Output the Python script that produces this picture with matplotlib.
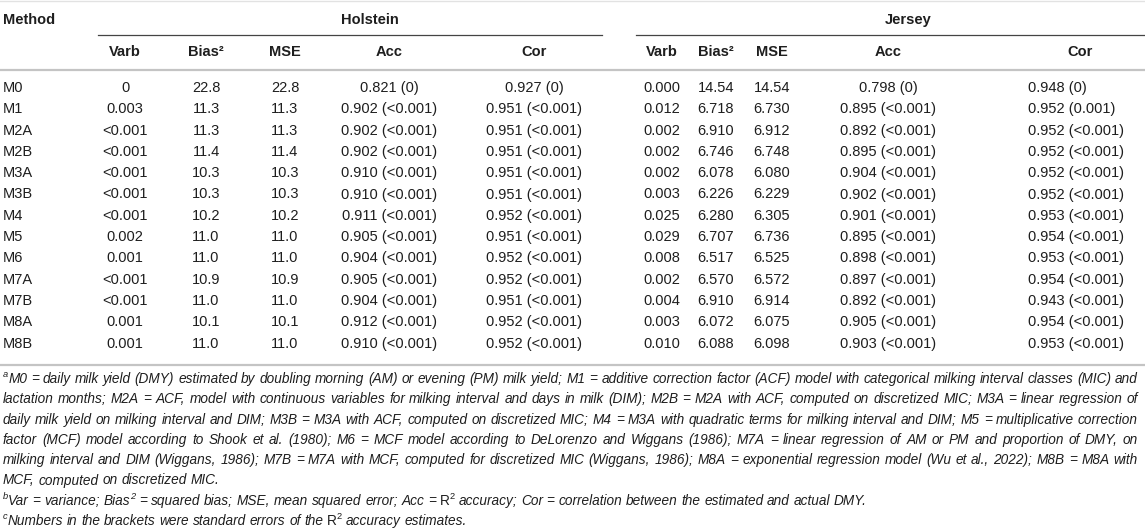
import matplotlib
matplotlib.use("Agg")
import matplotlib.pyplot as plt

# table data
methods = ["M0", "M1", "M2A", "M2B", "M3A", "M3B", "M4", "M5", "M6", "M7A", "M7B", "M8A", "M8B"]

hol_varb = ["0", "0.003", "<0.001", "<0.001", "<0.001", "<0.001", "<0.001", "0.002", "0.001",
            "<0.001", "<0.001", "0.001", "0.001"]
hol_bias2 = ["22.8", "11.3", "11.3", "11.4", "10.3", "10.3", "10.2", "11.0", "11.0", "10.9", "11.0", "10.1", "11.0"]
hol_mse = ["22.8", "11.3", "11.3", "11.4", "10.3", "10.3", "10.2", "11.0", "11.0", "10.9", "11.0", "10.1", "11.0"]
hol_acc = ["0.821 (0)", "0.902 (<0.001)", "0.902 (<0.001)", "0.902 (<0.001)", "0.910 (<0.001)",
           "0.910 (<0.001)", "0.911 (<0.001)", "0.905 (<0.001)", "0.904 (<0.001)", "0.905 (<0.001)",
           "0.904 (<0.001)", "0.912 (<0.001)", "0.910 (<0.001)"]
hol_cor = ["0.927 (0)", "0.951 (<0.001)", "0.951 (<0.001)", "0.951 (<0.001)", "0.951 (<0.001)",
           "0.951 (<0.001)", "0.952 (<0.001)", "0.951 (<0.001)", "0.952 (<0.001)", "0.952 (<0.001)",
           "0.951 (<0.001)", "0.952 (<0.001)", "0.952 (<0.001)"]

jer_varb = ["0.000", "0.012", "0.002", "0.002", "0.002", "0.003", "0.025", "0.029", "0.008",
            "0.002", "0.004", "0.003", "0.010"]
jer_bias2 = ["14.54", "6.718", "6.910", "6.746", "6.078", "6.226", "6.280", "6.707", "6.517",
             "6.570", "6.910", "6.072", "6.088"]
jer_mse = ["14.54", "6.730", "6.912", "6.748", "6.080", "6.229", "6.305", "6.736", "6.525",
           "6.572", "6.914", "6.075", "6.098"]
jer_acc = ["0.798 (0)", "0.895 (<0.001)", "0.892 (<0.001)", "0.895 (<0.001)", "0.904 (<0.001)",
           "0.902 (<0.001)", "0.901 (<0.001)", "0.895 (<0.001)", "0.898 (<0.001)", "0.897 (<0.001)",
           "0.892 (<0.001)", "0.905 (<0.001)", "0.903 (<0.001)"]
jer_cor = ["0.948 (0)", "0.952 (0.001)", "0.952 (<0.001)", "0.952 (<0.001)", "0.952 (<0.001)",
           "0.952 (<0.001)", "0.953 (<0.001)", "0.954 (<0.001)", "0.953 (<0.001)", "0.954 (<0.001)",
           "0.943 (<0.001)", "0.954 (<0.001)", "0.953 (<0.001)"]

sub_headers = ["Varb", "Bias\u00b2", "MSE", "Acc", "Cor"]
groups = ["Holstein", "Jersey"]

# footnotes: (text, kind) segments, one list per printed line
footnotes = [
    [("a", "sup"), ("M0 = daily milk yield (DMY) estimated by doubling morning (AM) or evening (PM) milk yield; "
                    "M1 = additive correction factor (ACF) model with categorical milking interval classes (MIC) and", "it")],
    [("lactation months; M2A = ACF, model with continuous variables for milking interval and days in milk (DIM); "
      "M2B = M2A with ACF, computed on discretized MIC; M3A = linear regression of", "it")],
    [("daily milk yield on milking interval and DIM; M3B = M3A with ACF, computed on discretized MIC; "
      "M4 = M3A with quadratic terms for milking interval and DIM; M5 = multiplicative correction", "it")],
    [("factor (MCF) model according to Shook et al. (1980); M6 = MCF model according to DeLorenzo and "
      "Wiggans (1986); M7A = linear regression of AM or PM and proportion of DMY, on", "it")],
    [("milking interval and DIM (Wiggans, 1986); M7B = M7A with MCF, computed for discretized MIC "
      "(Wiggans, 1986); M8A = exponential regression model (Wu et al., 2022); M8B = M8A with", "it")],
    [("MCF, computed on discretized MIC.", "it")],
    [("b", "sup"), ("Var = variance; Bias", "it"), ("2", "sup"), (" = squared bias; MSE, mean squared error; Acc = ", "it"),
     ("R", "rm"), ("2", "rsup"), (" accuracy; Cor = correlation between the estimated and actual DMY.", "it")],
    [("c", "sup"), ("Numbers in the brackets were standard errors of the ", "it"), ("R", "rm"), ("2", "rsup"),
     (" accuracy estimates.", "it")],
]
justified = [True, True, True, True, True, False, False, False]

FAM = "Liberation Sans"
INK = "#1e1e1e"
FS = 10.5

fig = plt.figure(figsize=(11.45, 5.32), dpi=100)
ax = fig.add_axes([0, 0, 1, 1])
ax.set_xlim(0, 1145)
ax.set_ylim(532, 0)
ax.axis("off")

# rules
ax.plot([0, 1145], [0.5, 0.5], color="#e2e2e2", lw=1)
ax.plot([98, 602], [35, 35], color="#444444", lw=0.9)
ax.plot([636, 1145], [35, 35], color="#444444", lw=0.9)
ax.plot([0, 1145], [69.5, 69.5], color="#c4c4c4", lw=1.6)
ax.plot([0, 1145], [365, 365], color="#c4c4c4", lw=1.6)

# headers
ax.text(3, 20, "Method", ha="left", va="center", fontsize=FS, family=FAM, fontweight="bold", color=INK)
group_x = [370, 908]
for g, gx in zip(groups, group_x):
    ax.text(gx, 20, g, ha="center", va="center", fontsize=FS, family=FAM, fontweight="bold", color=INK)

hol_x = [125, 206, 285, 389, 534]
jer_x = [662, 716, 772, 888, 1080]
for s, x in zip(sub_headers, hol_x):
    ax.text(x, 52, s, ha="center", va="center", fontsize=FS, family=FAM, fontweight="bold", color=INK)
for s, x in zip(sub_headers, jer_x):
    ax.text(x, 52, s, ha="center", va="center", fontsize=FS, family=FAM, fontweight="bold", color=INK)

# body
row0, row_step = 88, 21.3
hol_cols = [hol_varb, hol_bias2, hol_mse, hol_acc, hol_cor]
jer_cols = [jer_varb, jer_bias2, jer_mse, jer_acc, jer_cor]
for i, m in enumerate(methods):
    y = row0 + i * row_step
    ax.text(3, y, m, ha="left", va="center", fontsize=FS, family=FAM, color=INK)
    for col, x in zip(hol_cols, hol_x):
        ax.text(x, y, col[i], ha="center", va="center", fontsize=FS, family=FAM, color=INK)
    for j, (col, x) in enumerate(zip(jer_cols, jer_x)):
        if j == 4:
            ax.text(1028, y, col[i], ha="left", va="center", fontsize=FS, family=FAM, color=INK)
        else:
            ax.text(x, y, col[i], ha="center", va="center", fontsize=FS, family=FAM, color=INK)

# footnotes, justified word by word
renderer = fig.canvas.get_renderer()


def seg_style(kind, fs):
    if kind == "it":
        return dict(fontsize=fs, style="italic", dy=0)
    if kind == "sup":
        return dict(fontsize=fs * 0.68, style="italic", dy=-4.5)
    if kind == "rsup":
        return dict(fontsize=fs * 0.68, style="normal", dy=-4.5)
    return dict(fontsize=fs, style="normal", dy=0)


def split_words(segs):
    words = [[]]
    for s, kind in segs:
        parts = s.split(" ")
        for k, p in enumerate(parts):
            if k > 0:
                words.append([])
            if p:
                words[-1].append((p, kind))
    return [w for w in words if w]


def measure(s, kind, fs):
    st = seg_style(kind, fs)
    t = ax.text(0, 0, s, fontsize=st["fontsize"], style=st["style"], family=FAM)
    w = t.get_window_extent(renderer=renderer).width
    t.remove()
    return w


def line_width(words, fs):
    sp = measure("x x", "it", fs) - measure("xx", "it", fs)
    tot = sum(measure(s, k, fs) for w in words for s, k in w)
    return tot + sp * (len(words) - 1), sp


fn_words = [split_words(l) for l in footnotes]
fs_try = 10.0
widest = max(line_width(w, fs_try)[0] for w, j in zip(fn_words, justified) if j)
FS_FN = fs_try * 1136 / widest

fn_y0, fn_step = 379, 20.3
for n, (words, just) in enumerate(zip(fn_words, justified)):
    y = fn_y0 + n * fn_step
    natural, sp = line_width(words, FS_FN)
    gap = sp
    if just and len(words) > 1:
        gap = sp + (1138 - 3 - natural) / (len(words) - 1)
    x = 3
    for w in words:
        for s, kind in w:
            st = seg_style(kind, FS_FN)
            ax.text(x, y + st["dy"], s, ha="left", va="center", fontsize=st["fontsize"],
                    style=st["style"], family=FAM, color=INK)
            x += measure(s, kind, FS_FN)
        x += gap

fig.savefig("out.png", dpi=100)
